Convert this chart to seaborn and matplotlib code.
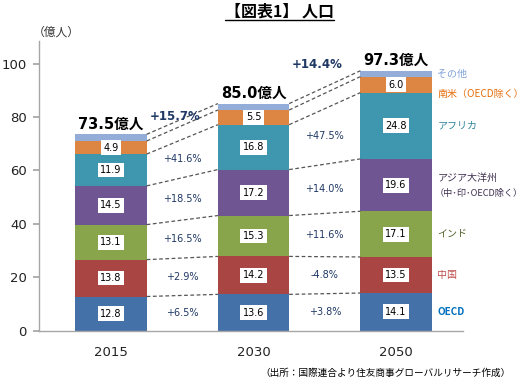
import numpy as np
import pandas as pd
import seaborn as sns
import matplotlib.pyplot as plt

# values (億人)
years = ["2015", "2030", "2050"]
regions = ["OECD", "中国", "インド", "アジア大洋州", "アフリカ", "南米", "その他"]
oecd = [12.8, 13.6, 14.1]
china = [13.8, 14.2, 13.5]
india = [13.1, 15.3, 17.1]
asia = [14.5, 17.2, 19.6]
africa = [11.9, 16.8, 24.8]
latam = [4.9, 5.5, 6.0]
other = [2.5, 2.4, 2.2]
totals = [73.5, 85.0, 97.3]

growth_2015_2030 = ["+6.5%", "+2.9%", "+16.5%", "+18.5%", "+41.6%"]
growth_2030_2050 = ["+3.8%", "-4.8%", "+11.6%", "+14.0%", "+47.5%"]
total_growth = ["+15.7%", "+14.4%"]

side_labels = ["OECD", "中国", "インド", "アジア大洋州",
               "アフリカ", "南米（OECD除く）", "その他"]
asia_note = "（中･印･OECD除く）"

colors = ["#4571A9", "#A94543", "#88A54B", "#6F5592", "#3F97AF", "#DD8542", "#94ADD8"]
label_colors = ["#0070C0", "#C0504D", "#4F6228", "#403151", "#31859C", "#E46C0A", "#7FA0D8"]
navy = "#1F3864"
jp = ["Noto Sans CJK JP", "DejaVu Sans"]

series = [oecd, china, india, asia, africa, latam, other]
df = pd.DataFrame([
    {"year": y, "region": r, "value": v}
    for r, vals in zip(regions, series)
    for y, v in zip(years, vals)
])
df["region"] = pd.Categorical(df["region"], regions, ordered=True)
df = df.sort_values(["year", "region"])
df["cum"] = df.groupby("year")["value"].cumsum()
df["mid"] = df["cum"] - df["value"] / 2

sns.set_theme(style="white")
plt.rcParams["font.family"] = ["DejaVu Sans", "Noto Sans CJK JP"]

fig = plt.figure(figsize=(5.27, 3.77), dpi=100)
ax = fig.add_axes([0.0746, 0.1228, 0.804, 0.769])

width = 0.5
# stacked bars: draw cumulative heights from the top layer down
for r, c in zip(reversed(regions), reversed(colors)):
    sub = df[df["region"] == r]
    sns.barplot(data=sub, x="year", y="cum", order=years, color=c,
                saturation=1, width=width, linewidth=0, ax=ax)

cum = df.pivot(index="region", columns="year", values="cum").loc[regions, years].values
mid = df.pivot(index="region", columns="year", values="mid").loc[regions, years].values
val = df.pivot(index="region", columns="year", values="value").loc[regions, years].values

# value boxes
for k in range(len(regions) - 1):
    for j in range(len(years)):
        ax.text(j, mid[k, j], f"{val[k, j]:.1f}", ha="center", va="center",
                fontsize=7, color="black", zorder=5,
                bbox=dict(boxstyle="square,pad=0.25", fc="white", ec="none"))

# dashed connectors between bar boundaries
for j in range(len(years) - 1):
    for k in range(len(regions)):
        ax.plot([j + width / 2, j + 1 - width / 2], [cum[k, j], cum[k, j + 1]],
                ls=(0, (3, 2)), lw=0.9, color="#555555", zorder=3)

# growth rates per region
for j, labels in enumerate([growth_2015_2030, growth_2030_2050]):
    for k, lab in enumerate(labels):
        ax.text(j + 0.5, (mid[k, j] + mid[k, j + 1]) / 2, lab, ha="center",
                va="center", fontsize=7, color=navy)

# totals
for j, t in enumerate(totals):
    ax.annotate(f"{t:.1f}億人", (j, t), xytext=(0, 2), textcoords="offset points",
                ha="center", va="bottom", fontsize=10.5, fontweight="bold",
                color="black")

# total growth
for j, (lab, dy) in enumerate(zip(total_growth, [4, 19])):
    ax.annotate(lab, (j + 0.45, totals[j] + 0.4 * (totals[j + 1] - totals[j])),
                xytext=(0, dy), textcoords="offset points", ha="center",
                va="center", fontsize=8.5, fontweight="bold", color=navy)

# side labels next to the 2050 bar
for k, (lab, c) in enumerate(zip(side_labels, label_colors)):
    dy = {5: -7, 3: 5}.get(k, 0)
    ax.annotate(lab, (2.29, mid[k, 2]), xytext=(0, dy), textcoords="offset points",
                ha="left", va="center", fontsize=7.2, color=c, family=jp,
                fontweight="bold" if k == 0 else "normal",
                annotation_clip=False)
ax.annotate(asia_note, (2.29, mid[3, 2]), xytext=(-2, -6), textcoords="offset points",
            ha="left", va="center", fontsize=6.6, color=label_colors[3], family=jp,
            annotation_clip=False)

ax.set_xlim(-0.503, 2.47)
ax.set_ylim(0, 108.5)
ax.set_yticks([0, 20, 40, 60, 80, 100])
ax.set_xlabel("")
ax.set_ylabel("")
for s in ["top", "right"]:
    ax.spines[s].set_visible(False)
for s in ["left", "bottom"]:
    ax.spines[s].set_color("#A6A6A6")
    ax.spines[s].set_linewidth(1)
ax.tick_params(axis="y", direction="out", length=4, color="#A6A6A6",
               labelsize=9.5, pad=5, left=True, labelcolor="#222222")
ax.tick_params(axis="x", length=0, labelsize=9.5, pad=11, labelcolor="#222222")

fig.text(0.106, 0.915, "（億人）", ha="center", va="center", fontsize=8.5,
         color="#333333", family=jp)
title = fig.text(0.531, 0.969, "【図表1】 人口", ha="center", va="center",
                 fontsize=11.5, fontweight="bold", color="black", family=jp)
fig.text(0.968, 0.011, "（出所：国際連合より住友商事グローバルリサーチ作成）",
         ha="right", va="center", fontsize=6.9, color="black", family=jp)

# underline the title
fig.canvas.draw()
bb = title.get_window_extent().transformed(fig.transFigure.inverted())
fig.add_artist(plt.Line2D([bb.x0, bb.x1], [bb.y0 - 0.002, bb.y0 - 0.002],
                          transform=fig.transFigure, color="black", lw=1))

plt.savefig("out.png", dpi=100)
